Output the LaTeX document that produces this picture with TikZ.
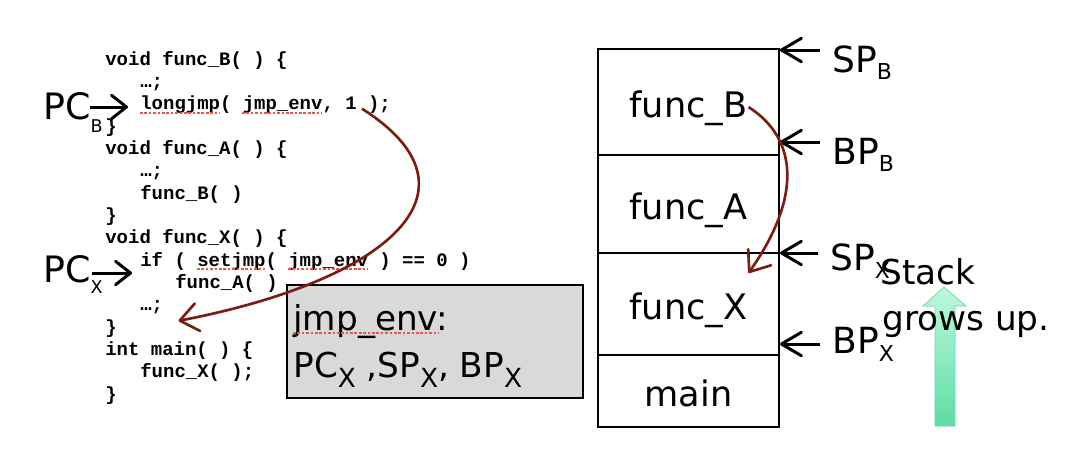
\documentclass[tikz,border=0pt]{standalone}
\usepackage{fontspec}
\setmainfont{DejaVu Sans}
\newfontfamily\codefont{Liberation Mono}
\usetikzlibrary{arrows.meta, calc}
\definecolor{jumpc}{HTML}{7B1C10}
\definecolor{spellc}{HTML}{E8554A}
\definecolor{envgray}{HTML}{D9D9D9}
\definecolor{growtop}{HTML}{BDF8DC}
\definecolor{growbot}{HTML}{5FDCA6}
% lowered subscript: drop, size, letter
\newcommand{\subx}[3]{\raisebox{-#1}{\fontsize{#2}{#2}\selectfont #3}}

\begin{document}
\begin{tikzpicture}[x=0.02cm, y=-0.02cm,
    code/.style={font=\codefont\bfseries\fontsize{10.8}{12}\selectfont,
                 anchor=base west, inner sep=0pt},
    lbl/.style={font=\fontsize{20.5}{24}\selectfont, anchor=base west,
                inner sep=0pt},
    frame/.style={draw, line width=1.1pt, minimum width=3.62cm, inner sep=0pt,
                  text height=18pt, text depth=0pt,
                  font=\fontsize{20}{24}\selectfont},
    ptr/.style={-{Straight Barb[round, length=#1, width=0.47cm]},
                line width=1.7pt},
    ptr/.default=0.4cm,
    jump/.style={jumpc, line width=1.5pt,
                 -{Straight Barb[round, length=0.36cm, width=0.56cm]}},
    spell/.style={spellc, dash pattern=on 1.5pt off 1pt, line width=1.1pt}]
  \useasboundingbox (0,0) rectangle (1068,468);

  % code
  \foreach \k/\x/\s in {0/105/{void func\_B( ) \{}, 1/140/{…;},
      2/140/{longjmp( jmp\_env, 1 );}, 3/105/{\}},
      4/105/{void func\_A( ) \{}, 5/140/{…;}, 6/140/{func\_B( )},
      7/105/{\}}, 8/105/{void func\_X( ) \{},
      9/140/{if ( setjmp( jmp\_env ) == 0 )}, 10/175/{func\_A( )},
      11/140/{…;}, 12/105/{\}}, 13/105/{int main( ) \{},
      14/140/{func\_X( );}, 15/105/{\}}}
    \node[code] (c\k) at (\x, 65+22.35*\k) {\s};
  \draw[spell] ($(c2.base west)+(0,3)$) -- ++(80,0);
  \draw[spell] ($(c2.base west)+(102,3)$) -- ++(80,0);
  \draw[spell] ($(c9.base west)+(57,3)$) -- ++(68,0);
  \draw[spell] ($(c9.base west)+(148,3)$) -- ++(80,0);

  \node[lbl, font=\fontsize{20.7}{24}\selectfont] (pcB) at (43,119)
    {PC\subx{0.26cm}{10}{B}};
  \node[lbl, font=\fontsize{20.7}{24}\selectfont] (pcX) at (43,282)
    {PC\subx{0.22cm}{10}{X}};
  \draw[ptr=0.3cm] ($(pcB.base west)+(47,-12)$) coordinate (pb)
    -- ($(pb -| c2.west)+(-12,0)$);
  \draw[ptr=0.3cm] ($(pcX.base west)+(49,-9)$) coordinate (px)
    -- ($(px -| c9.west)+(-8,0)$);

  % saved context
  \node[draw, fill=envgray, line width=0.7pt, minimum width=5.92cm,
        minimum height=2.26cm, inner sep=0pt] (env) at (435,341.5) {};
  \node[lbl, font=\fontsize{19.5}{22}\selectfont] (envA) at (293,330)
    {jmp\_env:};
  \node[lbl, font=\fontsize{19.5}{22}\selectfont] (envB) at (293,377)
    {PC\subx{0.2cm}{15}{X} ,SP\subx{0.2cm}{15}{X}, BP\subx{0.2cm}{15}{X}};
  \draw[spell] ($(envA.base west)+(0,3)$) -- ++(145,0);

  % stack frames
  \node[frame, minimum height=2.12cm] (fB) at (688.5,102) {func\_B};
  \node[frame, minimum height=1.96cm] (fA) at (688.5,204) {func\_A};
  \node[frame, minimum height=2.04cm] (fX) at (688.5,304) {func\_X};
  \node[frame, minimum height=1.44cm] (fM) at (688.5,391) {main};

  \node[lbl] (spB) at (832,72) {SP\subx{0.15cm}{12.5}{B}};
  \node[lbl] (bpB) at (832,164) {BP\subx{0.15cm}{12.5}{B}};
  \node[lbl] (spX) at (830,270) {SP\subx{0.17cm}{12.5}{X}};
  \node[lbl] (bpX) at (832,353) {BP\subx{0.17cm}{12.5}{X}};
  \foreach \p/\f/\dy in {spB/fB/-22, bpB/fB/-22, spX/fX/-17, bpX/fX/-9}
    \draw[ptr] ($(\p.base west)+(-12,\dy)$) coordinate (t) -- (t -| \f.east);

  % growth direction
  \shade[top color=growtop, bottom color=growbot, draw=growbot,
         line width=0.4pt]
    (935,426) -- (935,306) -- (923,306) -- (944,287) -- (966,306)
    -- (955,306) -- (955,426) -- cycle;
  \node[lbl, font=\fontsize{19.5}{23}\selectfont] (grow1) at (880,284) {Stack};
  \node[lbl, font=\fontsize{19.5}{23}\selectfont] (grow2) at (882,330)
    {grows up.};

  % jumps
  \draw[jump] ($(c2.base west)+(222,-1)$) .. controls (490,190) and (390,280)
    .. ($(c11.base east)+(15,10)$);
  \draw[jump] ($(fB.center)+(60,5)$) .. controls (800,140) and (800,200)
    .. ($(fX.center)+(60,-31)$);
\end{tikzpicture}
\end{document}
